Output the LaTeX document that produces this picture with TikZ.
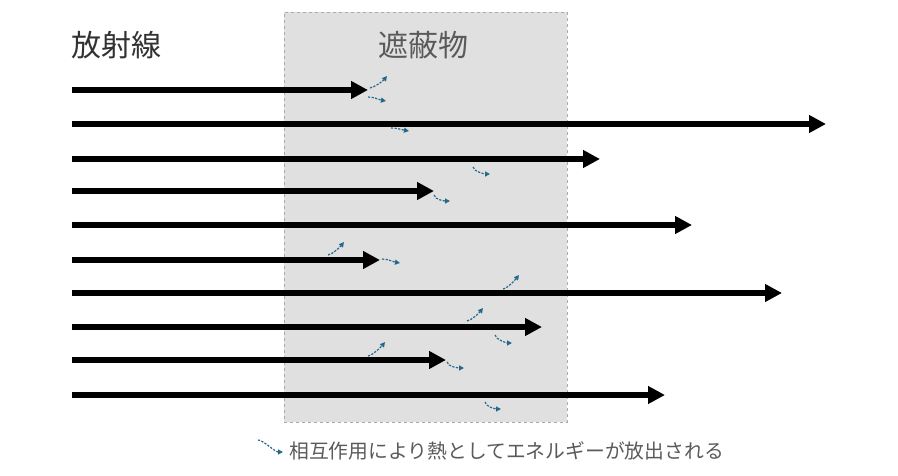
\documentclass[tikz,border=0pt]{standalone}
\usepackage{fontspec}
\setmainfont{Noto Sans CJK JP}
\usetikzlibrary{arrows.meta}
\definecolor{shieldfill}{RGB}{224,224,224}
\definecolor{shieldline}{RGB}{170,170,170}
\definecolor{heat}{RGB}{36,104,140}
\definecolor{txtdark}{RGB}{50,50,50}
\definecolor{txtgray}{RGB}{90,90,90}
\begin{document}
\begin{tikzpicture}[x=1pt,y=-1pt,
  ray/.style={line width=5.5pt,-{Triangle[length=17pt,width=17pt]}},
  heatarrow/.style={heat,line width=1.2pt,dash pattern=on 2.2pt off 1.4pt,-{Triangle[length=5pt,width=5pt]}},
  shieldbox/.style={draw=shieldline,fill=shieldfill,dashed,line width=0.8pt,inner sep=0,anchor=north west,minimum width=283pt,minimum height=410pt},
  label/.style={inner sep=0,anchor=west}]
\useasboundingbox (0,0) rectangle (898,476);
\node[shieldbox] (shield) at (284,12) {};
\node[label,txtdark,font=\fontsize{30pt}{31pt}\selectfont] (rad) at (71,45) {放射線};
\node[txtgray,inner sep=0,font=\fontsize{30pt}{31pt}\selectfont] (shname) at (423,45) {遮蔽物};
% rays
\foreach \i/\y/\e in {1/90/368,2/124/826,3/159/600,4/191/434,5/225/692,6/260/380,7/293/782,8/327/542,9/360/446,10/395/665}{
  \coordinate (s\i) at (72,\y);
  \coordinate (e\i) at (\e,\y);
  \draw[ray] (s\i) -- (e\i);
}
% heat squiggles
\foreach \n/\ax/\ay/\bx/\by/\type in {
  a/370/88/387/76/u, b/368/97/386/101/f, c/391/128/409/131/f,
  d/473/167/490/174/d, e/434/195/450/201/d, f/328/255/344/242/u,
  g/382/259/400/263/f, h/503/289/519/275/u, i/467/321/483/308/u,
  j/495/335/512/343/d, k/368/356/385/342/u, l/447/362/464/368/d,
  m/485/402/501/409/d}{
  \coordinate (h\n a) at (\ax,\ay);
  \coordinate (h\n b) at (\bx,\by);
  \if u\type
    \draw[heatarrow] (h\n a) .. controls +(5,-1) and +(-4,5) .. (h\n b);
  \else\if d\type
    \draw[heatarrow] (h\n a) .. controls +(1,5) and +(-5,0) .. (h\n b);
  \else
    \draw[heatarrow] (h\n a) .. controls +(6,0) and +(-6,-1) .. (h\n b);
  \fi\fi
}
% legend
\coordinate (lga) at (258,440);
\coordinate (lgb) at (283,452);
\draw[heatarrow] (lga) .. controls +(5,0) and +(-8,0) .. (lgb);
\node[label,txtgray,font=\fontsize{19.8pt}{20pt}\selectfont] (legend) at (289,451) {相互作用により熱としてエネルギーが放出される};
\end{tikzpicture}
\end{document}
